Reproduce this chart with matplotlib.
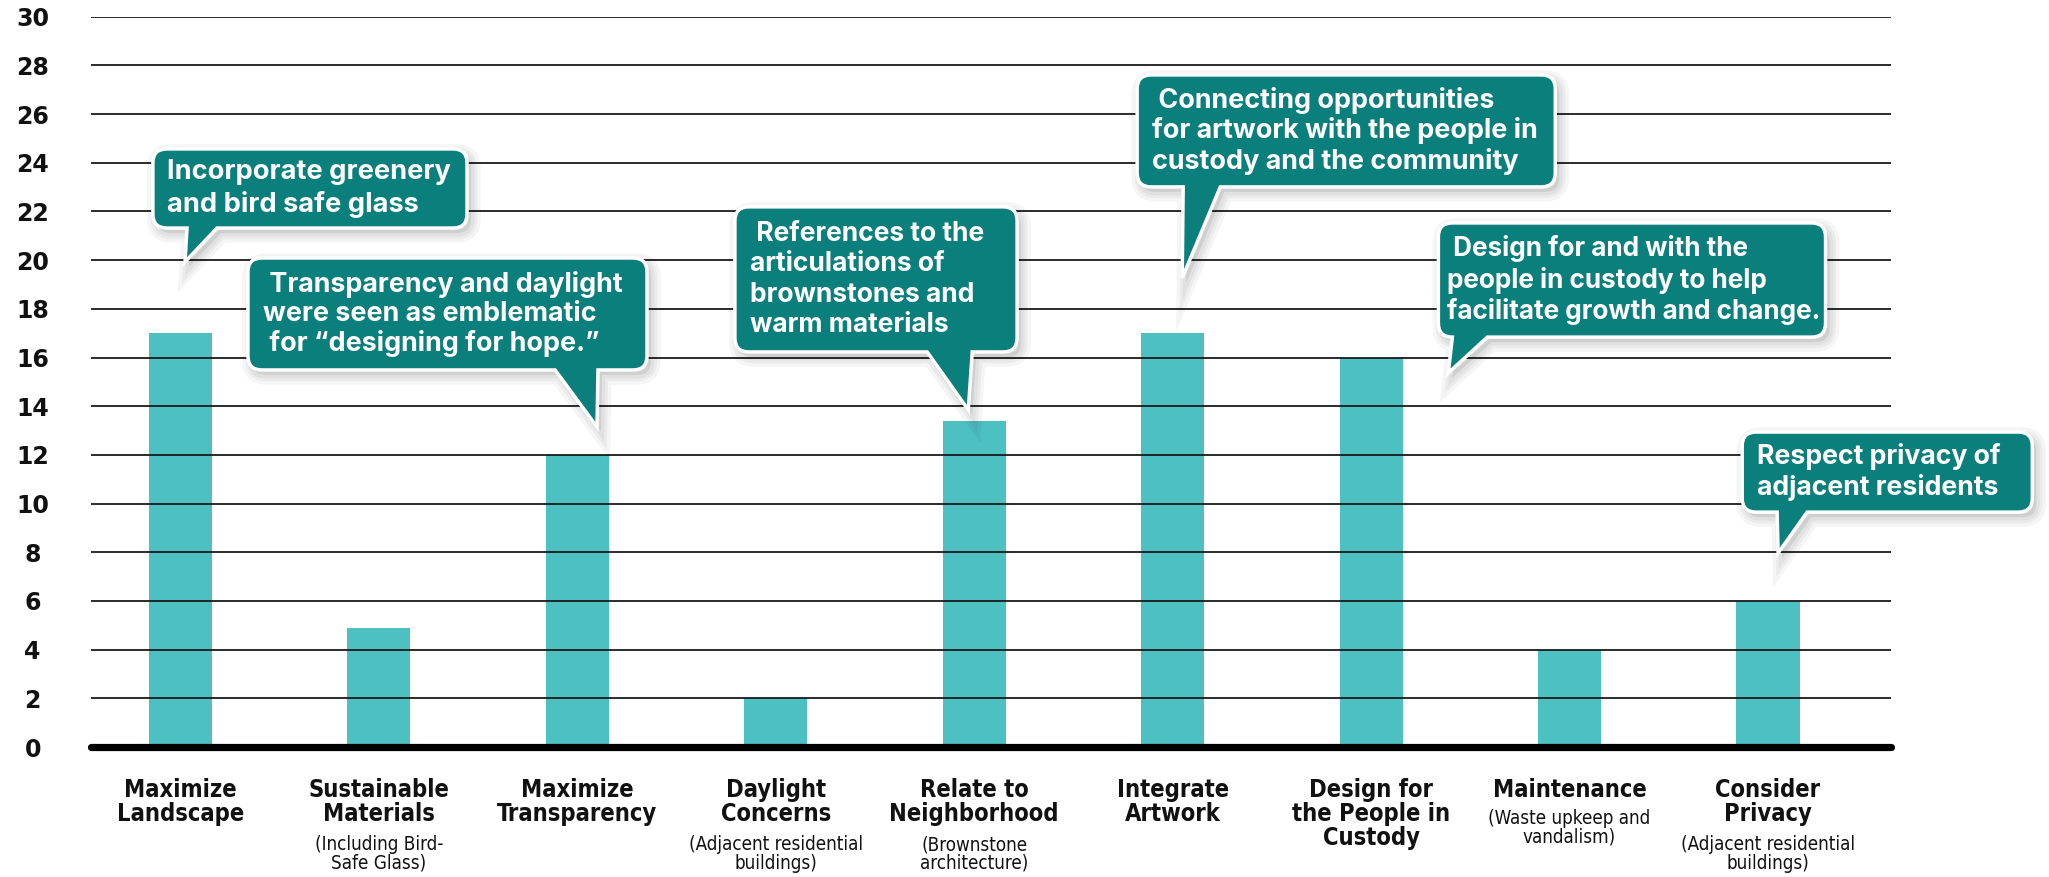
import numpy as np
import matplotlib
matplotlib.use("Agg")
import matplotlib.pyplot as plt
from matplotlib.path import Path
from matplotlib.patches import PathPatch
from matplotlib.transforms import IdentityTransform, Affine2D

# data
categories = ['Maximize\nLandscape', 'Sustainable\nMaterials', 'Maximize\nTransparency',
              'Daylight\nConcerns', 'Relate to\nNeighborhood', 'Integrate\nArtwork',
              'Design for\nthe People in\nCustody', 'Maintenance', 'Consider\nPrivacy']
notes = ['', '(Including Bird-\nSafe Glass)', '', '(Adjacent residential\nbuildings)',
         '(Brownstone\narchitecture)', '', '', '(Waste upkeep and\nvandalism)',
         '(Adjacent residential\nbuildings)']
values = [17, 4.9, 12, 2, 13.4, 17, 16, 4, 6]
yticks = list(range(0, 31, 2))

callout_texts = [
    'Incorporate greenery\nand bird safe glass',
    ' Transparency and daylight\nwere seen as emblematic\n for \u201cdesigning for hope.\u201d',
    ' References to the\narticulations of\nbrownstones and\nwarm materials',
    ' Connecting opportunities\nfor artwork with the people in\ncustody and the community',
    ' Design for and with the\npeople in custody to help\nfacilitate growth and change.',
    'Respect privacy of\nadjacent residents',
]

# callout layout (data units): box x0, x1, y_bottom, y_top, tail base x0, x1, tip x, tip y,
# text x, fontsize, linespacing
callout_layout = [
    (-0.139, 1.444, 21.32, 24.57, 0.033, 0.184, 0.023, 19.93, -0.068, 19.6, 1.3),
    (0.340, 2.351, 15.49, 20.09, 1.888, 2.104, 2.099, 13.15, 0.416, 19.4, 1.16),
    (2.794, 4.216, 16.23, 22.19, 3.763, 3.990, 3.970, 13.85, 2.870, 19.0, 1.22),
    (4.821, 6.928, 23.01, 27.61, 5.053, 5.240, 5.048, 19.27, 4.897, 19.4, 1.18),
    (6.339, 8.290, 16.84, 21.53, 6.384, 6.586, 6.389, 15.37, 6.384, 18.8, 1.2),
    (7.870, 9.332, 9.65, 12.94, 8.046, 8.197, 8.051, 7.97, 7.946, 19.2, 1.2),
]

BAR = '#4dc0c2'
TEAL = '#0b7f7b'
INK = '#111111'
LABEL_FONT = dict(family=['DejaVu Sans'], fontstretch='condensed')

fig = plt.figure(figsize=(20.49, 8.77), dpi=100)
ax = fig.add_axes([0.0444, 0.1482, 0.8785, 0.8327])

x = np.arange(len(categories))
ax.bar(x, values, width=0.318, color=BAR, zorder=1)

ax.set_xlim(-0.451, 8.62)
ax.set_ylim(0, 30)
ax.set_yticks(yticks)
ax.set_yticklabels([str(t) for t in yticks], fontsize=17, fontweight='bold', color=INK)
for lab in ax.get_yticklabels():
    lab.set_horizontalalignment('center')
ax.tick_params(axis='y', length=0, pad=42)
ax.set_xticks([])
for s in ax.spines.values():
    s.set_visible(False)

for t in yticks[1:]:
    ax.axhline(t, color='#1a1a1a', lw=1.3, zorder=2)
ax.plot([-0.453, 8.622], [0, 0], color='black', lw=5.2, solid_capstyle='round',
        clip_on=False, zorder=3)

# category labels
for i, (c, n) in enumerate(zip(categories, notes)):
    ax.annotate(c, xy=(i, 0), xycoords=('data', 'axes fraction'), xytext=(0, -22),
                textcoords='offset points', ha='center', va='top', fontsize=17,
                fontweight='bold', color=INK, linespacing=1.0, **LABEL_FONT)
    if n:
        nl = c.count('\n') + 1
        ax.annotate(n, xy=(i, 0), xycoords=('data', 'axes fraction'),
                    xytext=(0, -22 - nl * 18.8 - 4), textcoords='offset points',
                    ha='center', va='top', fontsize=13.5, color=INK,
                    linespacing=0.95, **LABEL_FONT)


def bubble(x0, x1, y0, y1, bx0, bx1, tx, ty, r=14):
    T = ax.transData
    X0, Y0 = T.transform((x0, y0))
    X1, Y1 = T.transform((x1, y1))
    B0 = T.transform((bx0, y0))[0]
    B1 = T.transform((bx1, y0))[0]
    TX, TY = T.transform((tx, ty))
    if B0 < X0 + r:
        B0 = X0 + r
    verts = [(X0 + r, Y0), (B0, Y0), (TX, TY), (B1, Y0), (X1 - r, Y0),
             (X1, Y0), (X1, Y0 + r), (X1, Y1 - r), (X1, Y1), (X1 - r, Y1),
             (X0 + r, Y1), (X0, Y1), (X0, Y1 - r), (X0, Y0 + r), (X0, Y0), (X0 + r, Y0),
             (X0 + r, Y0)]
    codes = [Path.MOVETO] + [Path.LINETO] * 4 + \
            [Path.CURVE3, Path.CURVE3, Path.LINETO, Path.CURVE3, Path.CURVE3,
             Path.LINETO, Path.CURVE3, Path.CURVE3, Path.LINETO, Path.CURVE3, Path.CURVE3,
             Path.CLOSEPOLY]
    return Path(verts, codes)


for txt, lay in zip(callout_texts, callout_layout):
    x0, x1, y0, y1, bx0, bx1, tx, ty, textx, fs, ls = lay
    p = bubble(x0, x1, y0, y1, bx0, bx1, tx, ty)
    for lw in [14, 9, 5]:
        ax.add_patch(PathPatch(p, transform=Affine2D().translate(4, -5), facecolor='none',
                               edgecolor='black', lw=lw, alpha=0.04, clip_on=False, zorder=4))
    ax.add_patch(PathPatch(p, transform=Affine2D().translate(4, -5), facecolor='black',
                           edgecolor='none', alpha=0.08, clip_on=False, zorder=4))
    ax.add_patch(PathPatch(p, transform=IdentityTransform(), facecolor=TEAL,
                           edgecolor='white', lw=2.5, clip_on=False, zorder=5))
    ax.text(textx, (y0 + y1) / 2, txt, ha='left', va='center', fontsize=fs,
            fontweight='bold', family=['Inter', 'DejaVu Sans'], color='white',
            linespacing=ls, zorder=6, clip_on=False)

fig.savefig('out.png', dpi=100, facecolor='white')
